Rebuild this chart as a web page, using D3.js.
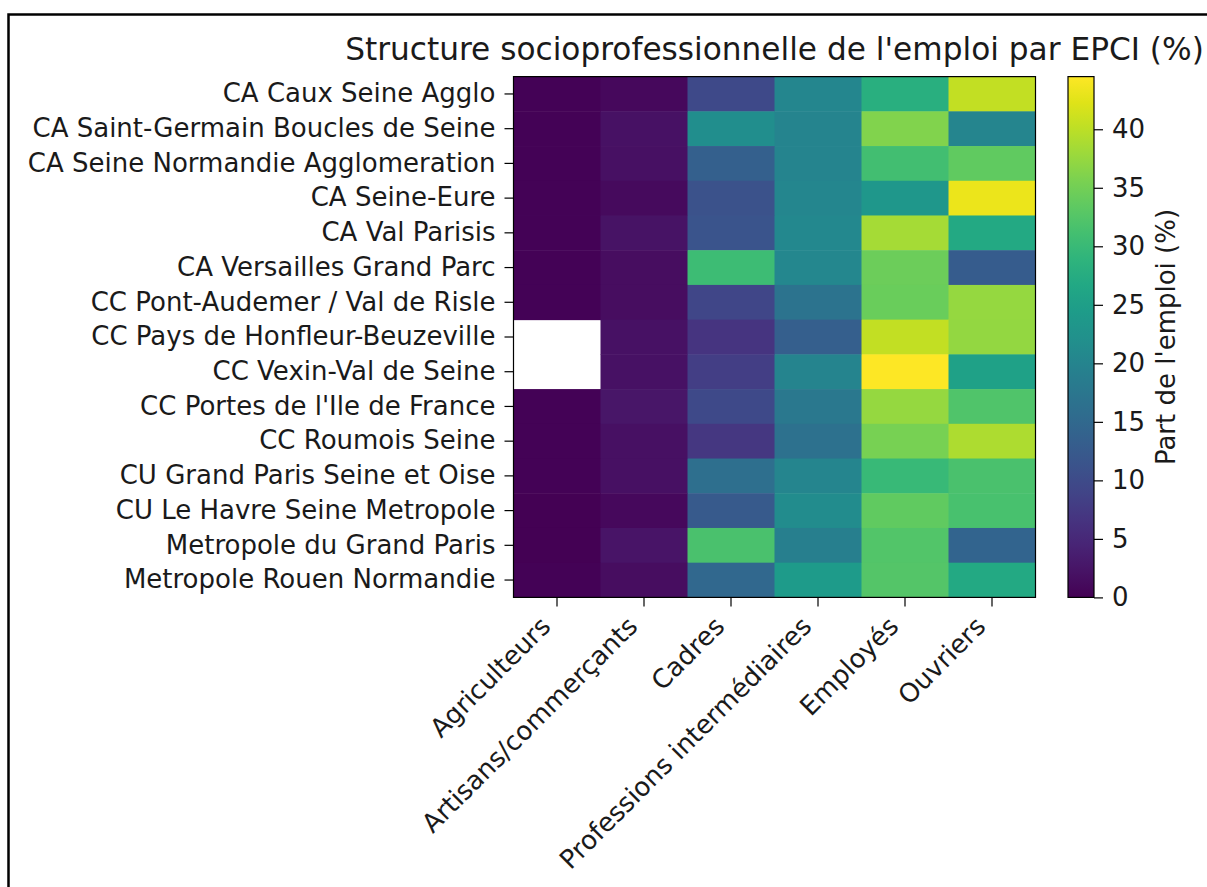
<!DOCTYPE html>
<html>
<head>
<meta charset="utf-8">
<script src="https://cdn.jsdelivr.net/npm/d3@7"></script>
<style>
  html, body { margin: 0; padding: 0; background: #fff; }
  svg text { font-family: "DejaVu Sans", sans-serif; fill: #1a1a1a; }
</style>
</head>
<body>
<svg id="chart" width="1207" height="887"></svg>
<script>
// EPCI names (rows, top to bottom)
const epci = [
  "CA Caux Seine Agglo",
  "CA Saint-Germain Boucles de Seine",
  "CA Seine Normandie Agglomeration",
  "CA Seine-Eure",
  "CA Val Parisis",
  "CA Versailles Grand Parc",
  "CC Pont-Audemer / Val de Risle",
  "CC Pays de Honfleur-Beuzeville",
  "CC Vexin-Val de Seine",
  "CC Portes de l'Ile de France",
  "CC Roumois Seine",
  "CU Grand Paris Seine et Oise",
  "CU Le Havre Seine Metropole",
  "Metropole du Grand Paris",
  "Metropole Rouen Normandie"
];

// socio-professional categories (columns)
const categories = [
  "Agriculteurs",
  "Artisans/commerçants",
  "Cadres",
  "Professions intermédiaires",
  "Employés",
  "Ouvriers"
];

// share of employment (%) per category, one array per column; null = no data
const agriculteurs  = [0.3, 0.2, 0.2, 0.3, 0.2, 0.2, 0.3, null, null, 0.3, 0.3, 0.2, 0.1, 0.0, 0.2];
const artisans      = [1.0, 2.0, 1.8, 1.2, 2.2, 1.5, 1.5, 2.0, 2.0, 2.5, 1.8, 1.8, 1.0, 2.3, 1.5];
const cadres        = [9.8, 21.8, 13.4, 11.2, 11.5, 30.5, 9.3, 6.7, 8.0, 9.8, 7.0, 16.0, 12.5, 31.8, 14.8];
const profInter     = [20.5, 20.0, 20.0, 20.5, 20.8, 20.6, 16.9, 13.3, 20.0, 17.8, 16.5, 20.2, 21.4, 19.1, 24.3];
const employes      = [28.0, 36.0, 31.0, 23.5, 38.5, 34.5, 34.3, 40.5, 44.5, 37.5, 35.3, 30.0, 33.6, 32.5, 32.6];
const ouvriers      = [40.5, 20.3, 33.6, 43.2, 26.8, 12.7, 37.5, 37.3, 25.4, 32.3, 39.0, 31.8, 31.5, 14.2, 26.8];

const columns = [agriculteurs, artisans, cadres, profInter, employes, ouvriers];

// colorbar ticks
const cbTicks = [0, 5, 10, 15, 20, 25, 30, 35, 40];

const title = "Structure socioprofessionnelle de l'emploi par EPCI (%)";
const cbLabel = "Part de l'emploi (%)";

// flat cell list
const cells = [];
epci.forEach((e, i) => {
  categories.forEach((c, j) => {
    cells.push({ epci: e, cat: c, value: columns[j][i] });
  });
});

const allValues = cells.map(d => d.value).filter(v => v != null);
const vmin = d3.min(allValues), vmax = d3.max(allValues);

const svg = d3.select("#chart");
const fs = 26;

// outer frame
svg.append("path")
  .attr("d", "M8.5,887 L8.5,14.5 L1207,14.5")
  .attr("fill", "none").attr("stroke", "#000").attr("stroke-width", 2.5);

const plot = { left: 513.5, right: 1035.5, top: 76.6, bottom: 597.4 };

const x = d3.scaleBand().domain(categories).range([plot.left, plot.right]).padding(0);
const y = d3.scaleBand().domain(epci).range([plot.top, plot.bottom]).padding(0);
const color = d3.scaleSequential(d3.interpolateViridis).domain([vmin, vmax]);

// heatmap cells (missing values stay blank)
svg.append("g").selectAll("rect")
  .data(cells.filter(d => d.value != null))
  .join("rect")
  .attr("x", d => x(d.cat))
  .attr("y", d => y(d.epci))
  .attr("width", x.bandwidth() + 0.5)
  .attr("height", y.bandwidth() + 0.5)
  .attr("fill", d => color(d.value));

// frame of the axes
svg.append("rect")
  .attr("x", plot.left).attr("y", plot.top)
  .attr("width", plot.right - plot.left).attr("height", plot.bottom - plot.top)
  .attr("fill", "none").attr("stroke", "#000").attr("stroke-width", 1.2);

// y axis
const yAxis = svg.append("g")
  .attr("transform", `translate(${plot.left},0)`)
  .call(d3.axisLeft(y).tickSize(9).tickPadding(9));
yAxis.select(".domain").remove();
yAxis.selectAll("line").attr("stroke", "#000").attr("stroke-width", 1.2);
yAxis.selectAll(".tick text").style("font-size", fs + "px").attr("fill", "#1a1a1a");

// x axis with rotated labels
const xAxis = svg.append("g")
  .attr("transform", `translate(0,${plot.bottom})`)
  .call(d3.axisBottom(x).tickSize(9).tickPadding(9));
xAxis.select(".domain").remove();
xAxis.selectAll("line").attr("stroke", "#000").attr("stroke-width", 1.2);
xAxis.selectAll(".tick text")
  .style("font-size", fs + "px").attr("fill", "#1a1a1a")
  .attr("text-anchor", "end")
  .attr("y", null).attr("dy", null)
  .attr("transform", `translate(-5,${628 - plot.bottom}) rotate(-45)`);

// title
svg.append("text")
  .attr("x", (plot.left + plot.right) / 2).attr("y", 60)
  .attr("text-anchor", "middle")
  .style("font-size", (fs * 1.2) + "px")
  .text(title);

// colorbar
const cb = { left: 1068, right: 1094, top: plot.top, bottom: plot.bottom };
const defs = svg.append("defs");
const grad = defs.append("linearGradient").attr("id", "cbgrad")
  .attr("x1", 0).attr("y1", 1).attr("x2", 0).attr("y2", 0);
d3.range(0, 1.0001, 0.05).forEach(t => {
  grad.append("stop").attr("offset", t).attr("stop-color", d3.interpolateViridis(t));
});
svg.append("rect")
  .attr("x", cb.left).attr("y", cb.top)
  .attr("width", cb.right - cb.left).attr("height", cb.bottom - cb.top)
  .attr("fill", "url(#cbgrad)").attr("stroke", "#000").attr("stroke-width", 1.2);

const cbScale = d3.scaleLinear().domain([vmin, vmax]).range([cb.bottom, cb.top]);
const cbAxis = svg.append("g")
  .attr("transform", `translate(${cb.right},0)`)
  .call(d3.axisRight(cbScale).tickValues(cbTicks).tickSize(9).tickPadding(9));
cbAxis.select(".domain").remove();
cbAxis.selectAll("line").attr("stroke", "#000").attr("stroke-width", 1.2);
cbAxis.selectAll(".tick text").style("font-size", fs + "px").attr("fill", "#1a1a1a");

svg.append("text")
  .attr("transform", `translate(1166,${(cb.top + cb.bottom) / 2}) rotate(-90)`)
  .attr("text-anchor", "middle")
  .attr("dy", "0.35em")
  .style("font-size", fs + "px")
  .text(cbLabel);
</script>
</body>
</html>
